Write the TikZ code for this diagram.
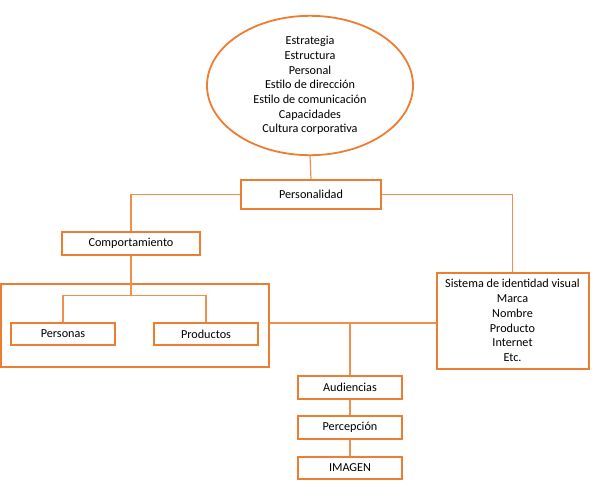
\documentclass[tikz,border=0pt]{standalone}
\usepackage{fontspec}
\setmainfont{Carlito}
\usetikzlibrary{shapes.geometric}
\definecolor{org}{HTML}{ED7D31}
\begin{document}
\begin{tikzpicture}[x=1pt,y=-1pt,
  box/.style={draw=org,line width=2pt,fill=white,inner sep=0pt,font=\fontsize{12.2}{14.7}\selectfont,align=center},
  link/.style={draw=org!85,line width=1.2pt}]
\useasboundingbox (0,0) rectangle (595,499);
% ellipse
\node[box,ellipse,line width=1.8pt,minimum width=206pt,minimum height=123pt] (strat) at (310,85.5)
 {Estrategia\\Estructura\\Personal\\Estilo de dirección\\Estilo de comunicación\\Capacidades\\Cultura corporativa};
\node[box,minimum width=140pt,minimum height=29pt] (pers) at (311,194.5) {Personalidad};
\node[box,minimum width=138pt,minimum height=23pt] (comp) at (131,243.5) {Comportamiento};
\node[draw=org,line width=2pt,minimum width=268pt,minimum height=83pt,inner sep=0pt] (grp) at (135,325.5) {};
\node[box,minimum width=104pt,minimum height=22pt] (personas) at (63,334) {Personas};
\node[box,minimum width=104pt,minimum height=22pt] (prod) at (206,334) {Productos};
\node[box,minimum width=152pt,minimum height=96pt] (siv) at (512.5,320.5)
 {Sistema de identidad visual\\Marca\\Nombre\\Producto\\Internet\\Etc.};
\node[box,minimum width=104pt,minimum height=23pt] (aud) at (350,387.5) {Audiencias};
\node[box,minimum width=104pt,minimum height=23pt] (perc) at (350,427.5) {Percepción};
\node[box,minimum width=104pt,minimum height=22pt] (img) at (350,468) {IMAGEN};
% connectors
\coordinate (bar) at (131,295.5);
\coordinate (mid) at (350,323);
\draw[link] (strat.south) -- (pers.north);
\draw[link] (pers.west) -| (comp.north);
\draw[link] (pers.east) -| (siv.north);
\draw[link] (comp.south) -- (bar);
\draw[link] (personas.north) |- (bar) -| (prod.north);
\draw[link] (grp.east |- mid) -- (siv.west |- mid);
\draw[link] (mid) -- (aud.north);
\draw[link] (aud.south) -- (perc.north);
\draw[link] (perc.south) -- (img.north);
\end{tikzpicture}
\end{document}
